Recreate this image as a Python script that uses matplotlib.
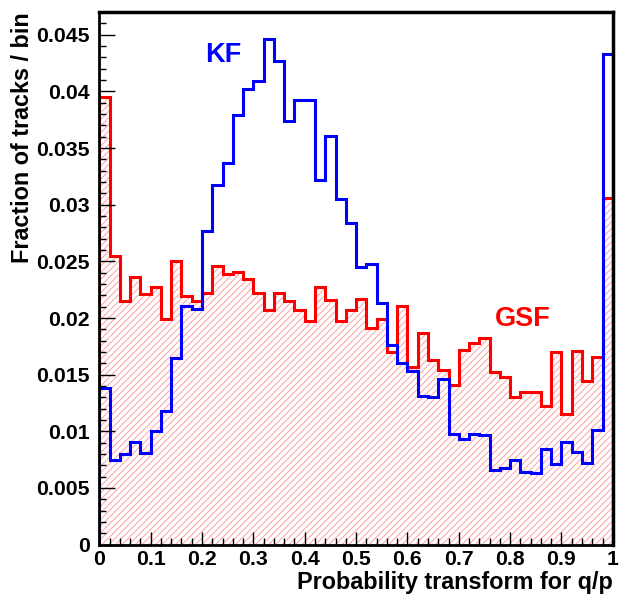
import numpy as np
import matplotlib
matplotlib.use('Agg')
import matplotlib.pyplot as plt

# bin edges: 50 bins between 0 and 1
edges = np.linspace(0, 1, 51)

# KF histogram (blue), fraction per bin
kf = [0.0138, 0.0075, 0.0080, 0.0091, 0.0081, 0.0100, 0.0118, 0.0165, 0.0211, 0.0208,
      0.0277, 0.0317, 0.0337, 0.0379, 0.0402, 0.0409, 0.0446, 0.0427, 0.0374, 0.0392,
      0.0392, 0.0322, 0.0361, 0.0305, 0.0284, 0.0245, 0.0248, 0.0213, 0.0176, 0.0160,
      0.0153, 0.0131, 0.0130, 0.0146, 0.0098, 0.0093, 0.0098, 0.0097, 0.0066, 0.0068,
      0.0075, 0.0064, 0.0063, 0.0084, 0.0071, 0.0091, 0.0082, 0.0072, 0.0101, 0.0433]

# GSF histogram (red, hatched)
gsf = [0.0395, 0.0255, 0.0215, 0.0236, 0.0221, 0.0227, 0.0199, 0.0250, 0.0219, 0.0215,
       0.0222, 0.0246, 0.0239, 0.0241, 0.0234, 0.0222, 0.0207, 0.0222, 0.0215, 0.0207,
       0.0197, 0.0227, 0.0216, 0.0197, 0.0207, 0.0217, 0.0191, 0.0199, 0.0170, 0.0211,
       0.0157, 0.0187, 0.0163, 0.0154, 0.0141, 0.0172, 0.0178, 0.0182, 0.0152, 0.0148,
       0.0130, 0.0135, 0.0135, 0.0122, 0.0170, 0.0115, 0.0171, 0.0144, 0.0166, 0.0306]

plt.rcParams['font.family'] = ['Liberation Sans', 'DejaVu Sans']
plt.rcParams['font.weight'] = 'bold'
plt.rcParams['hatch.linewidth'] = 0.7

fig = plt.figure(figsize=(6.26, 5.99), dpi=100)
ax = fig.add_axes([0.1586, 0.0908, 0.8204, 0.889])

# hatched fill under the GSF curve
ax.stairs(gsf, edges, fill=True, facecolor='none', edgecolor='#ffa0a0',
          hatch='/////', linewidth=0)
ax.stairs(gsf, edges, color='red', linewidth=2.2)
ax.stairs(kf, edges, color='blue', linewidth=2.2)

ax.set_xlim(0, 1)
ax.set_ylim(0, 0.047)

ax.set_xticks(np.arange(0, 1.01, 0.1))
ax.set_xticklabels(['0', '0.1', '0.2', '0.3', '0.4', '0.5', '0.6', '0.7', '0.8', '0.9', '1'])
ax.set_xticks(np.arange(0, 1.001, 0.02), minor=True)
ax.set_yticks(np.arange(0, 0.0451, 0.005))
ax.set_yticklabels(['0', '0.005', '0.01', '0.015', '0.02', '0.025', '0.03',
                    '0.035', '0.04', '0.045'])
ax.set_yticks(np.arange(0, 0.0471, 0.001), minor=True)

ax.tick_params(axis='both', which='both', direction='in', labelsize=15.3, width=1)
ax.tick_params(axis='x', which='major', length=9.5, pad=4)
ax.tick_params(axis='x', which='minor', length=5)
ax.tick_params(axis='y', which='major', length=11.5, pad=7)
ax.tick_params(axis='y', which='minor', length=5)

for s in ax.spines.values():
    s.set_linewidth(2)
ax.spines['top'].set_linewidth(2.5)
ax.spines['right'].set_linewidth(2.5)

ax.set_xlabel('Probability transform for q/p', fontsize=16.8, fontweight='bold',
              loc='right', labelpad=1)
ax.yaxis.set_label_coords(-0.127, 0.985)
ax.set_ylabel('Fraction of tracks / bin', fontsize=16.8, fontweight='bold',
              loc='top')

ax.text(0.2414, 0.0432, 'KF', color='blue', fontsize=19.5, fontweight='bold',
        ha='center', va='center')
ax.text(0.8247, 0.01995, 'GSF', color='red', fontsize=19.5, fontweight='bold',
        ha='center', va='center')

fig.savefig('out.png', dpi=100)
